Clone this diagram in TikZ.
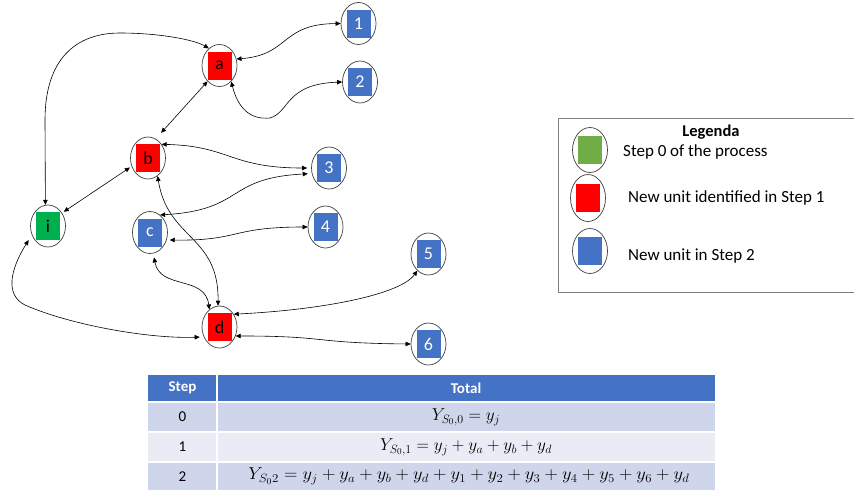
\documentclass[tikz,border=0pt]{standalone}
\usepackage{fontspec}
\usepackage{graphicx}
\setmainfont{Carlito}
\usetikzlibrary{shapes.geometric,arrows.meta}
\definecolor{ured}{HTML}{FF0000}
\definecolor{ublue}{HTML}{4472C4}
\definecolor{ugreen}{HTML}{00B050}
\definecolor{lgreen}{HTML}{70AD47}
\definecolor{rowdark}{HTML}{CFD5EA}
\definecolor{rowlight}{HTML}{E9EBF5}
\definecolor{ringgray}{HTML}{3F3F3F}
\definecolor{legline}{HTML}{7F7F7F}
\tikzset{
  unit/.style={ellipse, draw=ringgray, line width=0.7pt, minimum width=35pt,
    minimum height=42pt, inner sep=0pt, font=\fontsize{18}{20}\selectfont,
    path picture={\fill[#1] ([xshift=-12pt,yshift=-14pt]path picture bounding box.center) rectangle ++(24pt,28pt);}},
  legunit/.style={unit=#1, minimum height=45pt},
  link/.style={line width=0.6pt, >={Triangle[length=5pt,width=4.5pt]}, <->},
  legtext/.style={anchor=west, font=\fontsize{17}{20}\selectfont, inner sep=0pt},
  headtext/.style={text=white, font=\fontsize{15}{18}\selectfont\bfseries, inner sep=0pt},
  celltext/.style={font=\fontsize{15}{18}\selectfont, inner sep=0pt},
  mathtext/.style={font=\fontsize{17.5}{20}\selectfont, inner sep=0pt}
}
\begin{document}
\begin{tikzpicture}[x=1pt,y=-1pt]
\useasboundingbox[fill=white] (0,0) rectangle (854,491);
% nodes
\node[unit=ured] (a) at (219.5,65.5) {a};
\node[unit=ublue,text=white] (n1) at (358.5,23.5) {1};
\node[unit=ublue,text=white] (n2) at (360,82) {2};
\node[unit=ured] (b) at (148,158) {b};
\node[unit=ublue,text=white] (n3) at (329,168) {3};
\node[unit=ugreen] (i) at (48,226) {i};
\node[unit=ublue,text=white] (c) at (150,232.5) {c};
\node[unit=ublue,text=white] (n4) at (325.5,227) {4};
\node[unit=ublue,text=white] (n5) at (428.5,254) {5};
\node[unit=ured] (d) at (219.5,327) {d};
\node[unit=ublue,text=white] (n6) at (428.5,344) {6};
% connectors
\draw[link] (i.97) -- (45,120) .. controls (45,60) and (75,33) .. (120,33)
   .. controls (160,33) and (195,40) .. (a.122);
\draw[link] (a.21) .. controls (290,55) and (280,24) .. (n1.180);
\draw[link] (a.-54) .. controls (238,108) and (250,120) .. (270,118)
   .. controls (290,112) and (285,84) .. (n2.180);
\draw[link, shorten >=8pt] (a.233) -- (b.68);
\draw[link, shorten >=4pt] (b.45) .. controls (230,146) and (230,168) .. (n3.180);
\draw[link, shorten <=2pt, shorten >=2pt] (i.43) -- (b.207);
\draw[link, shorten >=4pt] (c.60) .. controls (245,210) and (225,178) .. (n3.198);
\draw[link] (b.-62) .. controls (168,240) and (219,235) .. (d.94);
\draw[link, shorten <=3pt] (c.-24) .. controls (240,241) and (230,227) .. (n4.180);
\draw[link, shorten <=4pt] (c.-81) .. controls (160,290) and (205,275) .. (d.120);
\draw[link, shorten <=6pt, shorten >=4pt] (i.209) .. controls (10,270) and (5,295) .. (25,305)
   .. controls (70,325) and (150,339) .. (d.212);
\draw[link] (d.42) .. controls (320,310) and (400,295) .. (n5.236);
\draw[link] (d.-29) .. controls (330,336) and (310,343) .. (n6.180);
% legend
\draw[legline, line width=0.8pt] (870,118) -- (558,118) -- (558,292) -- (870,292);
\node[font=\fontsize{16.5}{18}\selectfont\bfseries, inner sep=0pt] (lgt) at (711,132) {Legenda};
\node[legunit=lgreen] (lg0) at (590,150) {};
\node[legunit=ured, minimum height=47pt] (lg1) at (588,198) {};
\node[legunit=ublue] (lg2) at (590,251) {};
\node[legtext] (lt0) at (623,152) {Step 0 of the process};
\node[legtext] (lt1) at (628,198) {New unit identified in Step 1};
\node[legtext] (lt2) at (628,256) {New unit in Step 2};
% table
\fill[ublue] (148,375) rectangle (715,401);
\fill[rowdark] (148,403) rectangle (715,431);
\fill[rowlight] (148,433) rectangle (715,461);
\fill[rowdark] (148,463) rectangle (715,490);
\draw[white, line width=1.5pt] (217,375) -- (217,490);
\node[headtext] (hs) at (182.5,388) {Step};
\node[headtext] (ht) at (466,388) {Total};
\node[celltext] (s0) at (182.5,417) {0};
\node[celltext] (s1) at (182.5,447) {1};
\node[celltext] (s2) at (182.5,476.5) {2};
\node[mathtext] (t0) at (466,417) {$Y_{S_0,0} = y_j$};
\node[mathtext] (t1) at (466,447) {$Y_{S_0,1} = y_j + y_a + y_b + y_d$};
\node[mathtext] (t2) at (469,476.5) {\scalebox{1.07}[1]{$Y_{S_0 2} = y_j + y_a + y_b + y_d + y_1 + y_2 + y_3 + y_4 + y_5 + y_6 + y_d$}};
\end{tikzpicture}
\end{document}
